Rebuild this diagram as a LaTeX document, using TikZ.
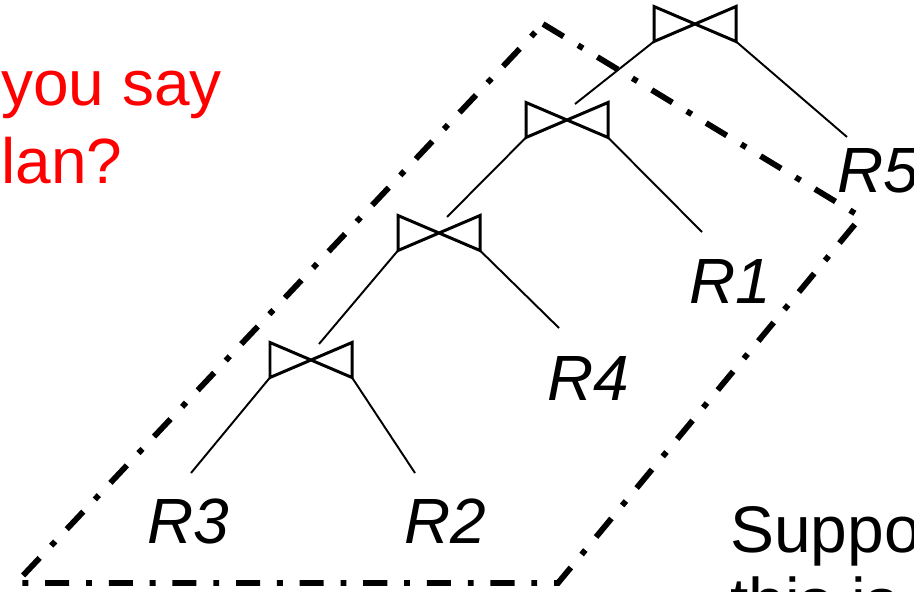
\documentclass[tikz,border=0pt]{standalone}
\usepackage{fontspec}
\setmainfont{Liberation Sans}
\usetikzlibrary{positioning}

\tikzset{
  joinsym/.style={line width=1.7pt},
  bowtie/.pic={
    \draw[joinsym] (0,0) -- (-0.82,0.35) -- (-0.82,-0.35) -- cycle
                   (0,0) -- (0.82,0.35) -- (0.82,-0.35) -- cycle;
    \coordinate (-l) at (-0.82,-0.35);
    \coordinate (-r) at (0.82,-0.35);
    \coordinate (-t) at (0.16,0.32);
  }
}

\begin{document}
\begin{tikzpicture}[line cap=butt,line join=miter,
    frame/.style={line width=3.3pt,dash pattern=on 13.7pt off 9.6pt on 3.3pt off 9.6pt},
    edge/.style={line width=1.1pt},
    rel/.style={inner sep=0pt,anchor=base,font=\fontsize{36.4}{43}\selectfont\itshape},
    redtext/.style={inner sep=0pt,anchor=base west,text=red,font=\fontsize{36.4}{43}\selectfont},
    note/.style={inner sep=0pt,anchor=base west,font=\fontsize{37.5}{45}\selectfont}]
  \useasboundingbox (0,0) rectangle (18.28,11.82);
  % dash-dot frame
  \coordinate (A) at (10.86,11.34);
  \coordinate (B) at (17.22,7.48);
  \coordinate (C) at (11.16,0.16);
  \coordinate (D) at (0.32,0.16);
  \draw[frame] (A) -- (B) -- (C) -- (D) -- cycle;
  % joins
  \pic (j1) at (6.22,4.62) {bowtie};
  \pic (j2) at (8.78,7.16) {bowtie};
  \pic (j3) at (11.34,9.42) {bowtie};
  \pic (j4) at (13.90,11.34) {bowtie};
  % leaf ends
  \coordinate (r3end) at (3.82,2.36);
  \coordinate (r2end) at (8.30,2.36);
  \coordinate (r4end) at (11.18,5.26);
  \coordinate (r1end) at (14.04,7.18);
  \coordinate (r5end) at (16.94,9.08);
  \draw[edge] (j1-l) -- (r3end);
  \draw[edge] (j1-r) -- (r2end);
  \draw[edge] (j1-t) -- (j2-l);
  \draw[edge] (j2-r) -- (r4end);
  \draw[edge] (j2-t) -- (j3-l);
  \draw[edge] (j3-r) -- (r1end);
  \draw[edge] (j3-t) -- (j4-l);
  \draw[edge] (j4-r) -- (r5end);
  % relations
  \node[rel] (R3) at (3.76,0.96) {R3};
  \node[rel] (R2) at (8.90,0.96) {R2};
  \node[rel] (R4) at (11.76,3.82) {R4};
  \node[rel] (R1) at (14.60,5.76) {R1};
  \node[rel] (R5) at (17.56,7.98) {R5};
  % text
  \node[redtext] (ask1) at (0.02,9.72) {you say};
  \node[redtext] (ask2) at (0.02,8.16) {lan?};
  \node[note] (note1) at (14.60,0.78) {Suppo};
  \node[note] (note2) at (14.60,-0.66) {this is};
\end{tikzpicture}
\end{document}
